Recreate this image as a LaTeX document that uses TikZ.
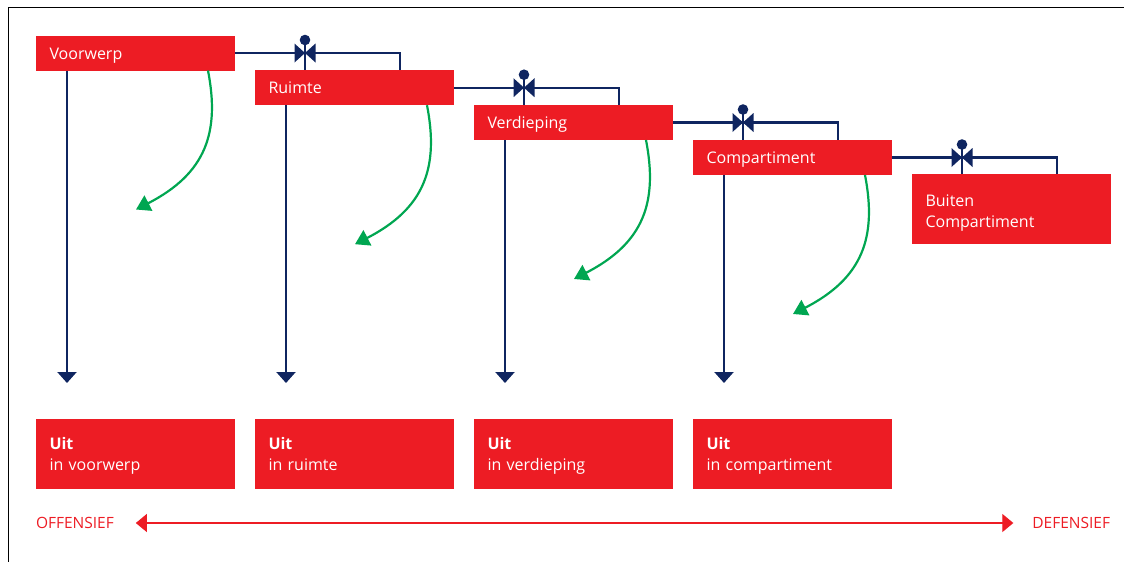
\documentclass[tikz,border=0pt]{standalone}
\usepackage{fontspec}
\setmainfont{Open Sans}
\usetikzlibrary{arrows.meta}
\definecolor{fred}{HTML}{ED1C24}
\definecolor{fnavy}{HTML}{0F2560}
\definecolor{fgreen}{HTML}{00A651}
\newcommand{\tstrut}{\rule{0pt}{18.7pt}}
\newcommand{\ttstrut}{\rule{0pt}{22.7pt}}
\tikzset{
  redbox/.style={fill=fred,text=white,anchor=north west,inner xsep=13.5pt,inner ysep=0pt,outer sep=0pt,
    minimum height=35pt,text width=172pt,align=left,font=\fontsize{16}{21}\selectfont},
  tallbox/.style={redbox,minimum height=70pt},
  pipe/.style={draw=fnavy,line width=2.2pt},
  downline/.style={pipe,-{Triangle[length=11pt,width=19pt]}},
  greenline/.style={draw=fgreen,line width=2.2pt,-{Triangle[length=14pt,width=17pt]}},
  scale line/.style={draw=fred,line width=1.2pt,{Triangle[length=11pt,width=18pt]}-{Triangle[length=11pt,width=18pt]}},
  sidelabel/.style={text=fred,inner sep=0pt,outer sep=0pt,font=\fontsize{15.5}{18}\selectfont}
}
\begin{document}
\begin{tikzpicture}[x=1pt,y=-1pt]
\useasboundingbox (0,0) rectangle (1124,562);
\draw[black,line width=1.2pt] (1124,7.5) -- (8.5,7.5) -- (8.5,562);
% upper boxes
\node[redbox] (a) at (36,35.5) {\tstrut\strut Voorwerp};
\node[redbox] (b) at (255,70.2) {\tstrut\strut Ruimte};
\node[redbox] (c) at (474,105) {\tstrut\strut Verdieping};
\node[redbox] (d) at (693,140) {\tstrut\strut Compartiment};
\node[tallbox] (e) at (912,174.2) {\ttstrut\strut Buiten\\\strut Compartiment};
% lower boxes
\node[tallbox] (ua) at (36,419) {\tstrut\strut\textbf{Uit}\\\strut in voorwerp};
\node[tallbox] (ub) at (255,419) {\tstrut\strut\textbf{Uit}\\\strut in ruimte};
\node[tallbox] (uc) at (474,419) {\tstrut\strut\textbf{Uit}\\\strut in verdieping};
\node[tallbox] (ud) at (693,419) {\tstrut\strut\textbf{Uit}\\\strut in compartiment};
% valves and connectors between boxes
\foreach \p/\q/\v in {a/b/va,b/c/vb,c/d/vc,d/e/vd}{
  \path (\p.east) ++(70,0) coordinate (\v);
  \draw[pipe] (\p.east) -- (\v);
  \draw[pipe] (\v) -| ([xshift=145pt]\q.north west);
  \draw[pipe] (\v) -- ++(0,-13) coordinate (\v top);
  \draw[pipe] (\v) -- (\v |- \q.north);
  \fill[fnavy] (\v top) circle (5.3pt);
  \fill[fnavy] (\v) -- ++(-10.5,-9.5) -- ++(0,19) -- cycle;
  \fill[fnavy] (\v) -- ++(10.5,-9.5) -- ++(0,19) -- cycle;
}
% down arrows
\foreach \p/\q in {a/ua,b/ub,c/uc,d/ud}{
  \draw[downline] ([xshift=31pt]\p.south west) -- ([xshift=31pt,yshift=36pt]\q.north west);
}
% green arrows
\foreach \p in {a,b,c,d}{
  \path ([xshift=172pt]\p.south west) coordinate (s);
  \draw[greenline] (s) .. controls +(12,62) and +(70,-36) .. +(-72,139);
}
% scale
\node[sidelabel,anchor=west] (off) at (36,523) {OFFENSIEF};
\node[sidelabel,anchor=east] (def) at (1110,523) {DEFENSIEF};
\draw[scale line] ([xshift=22pt]off.east) -- ([xshift=-19pt]def.west);
\end{tikzpicture}
\end{document}
